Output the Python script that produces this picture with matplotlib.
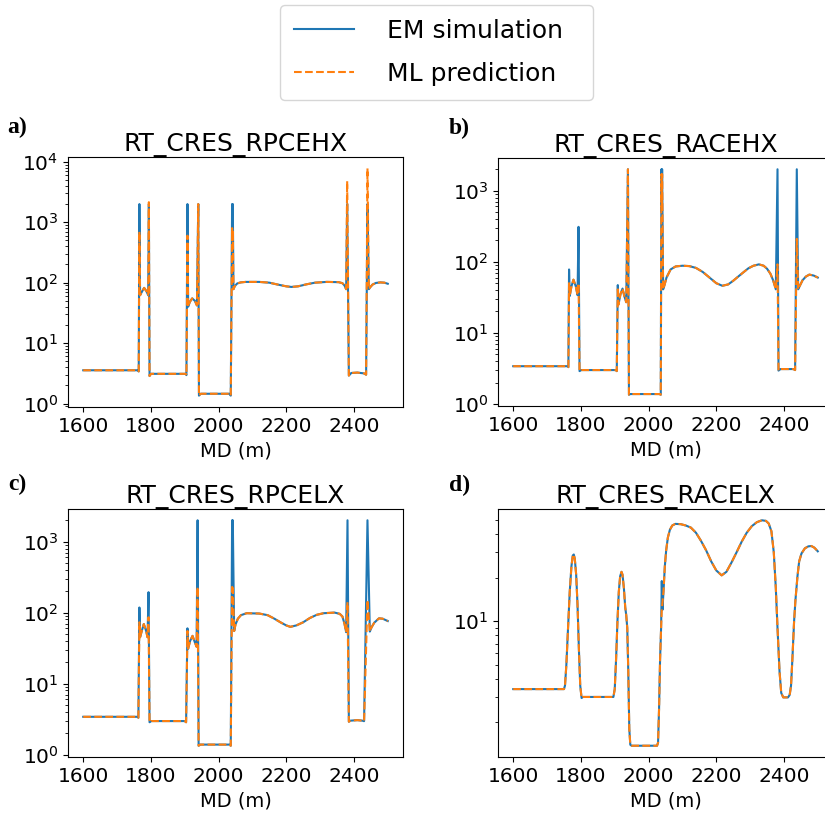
import matplotlib
matplotlib.use('Agg')
import matplotlib.pyplot as plt

# values: (MD in m, EM simulation, ML prediction), one table per panel
titles = ['RT_CRES_RPCEHX', 'RT_CRES_RACEHX', 'RT_CRES_RPCELX', 'RT_CRES_RACELX']
panel_labels = ['a)', 'b)', 'c)', 'd)']

rows_a = [(1600, 3.55, 3.55), (1760, 3.55, 3.55), (1764, 3.4, 3.4), (1766, 2000, 700), (1768, 62, 62),
          (1773, 70, 70), (1780, 82, 82), (1787, 72, 72), (1792, 62, 62), (1794, 2000, 2150),
          (1796, 2.85, 2.85), (1800, 3.1, 3.1), (1903, 3.1, 3.1), (1905, 2.95, 2.95), (1908, 2000, 600),
          (1910, 40, 40), (1915, 48, 48), (1922, 55, 55), (1930, 50, 50), (1936, 42, 42),
          (1940, 2000, 2000), (1942, 1.35, 1.35), (1947, 1.45, 1.45), (2032, 1.45, 1.45), (2036, 1.35, 1.35),
          (2040, 2000, 800), (2041, 400, 500), (2042, 2000, 700), (2044, 78, 78), (2048, 88, 88),
          (2055, 97, 97), (2065, 101, 101), (2080, 103, 103), (2120, 103, 103), (2150, 100, 100),
          (2175, 93, 93), (2200, 87, 87), (2215, 85, 85), (2235, 87, 87), (2260, 94, 94),
          (2285, 100, 100), (2320, 103, 103), (2355, 102, 102), (2366, 98, 98), (2372, 90, 90),
          (2377, 78, 78), (2380, 2000, 4800), (2385, 2.9, 2.9), (2392, 3.2, 3.2), (2410, 3.25, 3.25),
          (2430, 3.15, 3.15), (2436, 3.0, 3.0), (2440, 2000, 7800), (2444, 78, 78), (2448, 84, 84),
          (2455, 93, 93), (2465, 99, 99), (2478, 101, 101), (2490, 100, 100), (2500, 96, 96)]

rows_b = [(1600, 3.4, 3.4), (1760, 3.4, 3.4), (1763, 3.3, 3.3), (1765, 78, 50), (1767, 33, 33),
          (1772, 45, 45), (1778, 56, 56), (1785, 45, 45), (1790, 34, 34), (1793, 310, 50),
          (1796, 2.9, 2.9), (1801, 3.0, 3.0), (1903, 3.0, 3.0), (1906, 2.9, 2.9), (1909, 47, 44),
          (1911, 25, 25), (1917, 35, 35), (1923, 42, 42), (1929, 32, 32), (1934, 27, 27),
          (1939, 2000, 2000), (1942, 1.35, 1.35), (1946, 1.38, 1.38), (2032, 1.38, 1.38), (2036, 1.35, 1.35),
          (2038, 2000, 1700), (2039, 500, 600), (2040, 2000, 1700), (2043, 41, 41), (2047, 47, 47),
          (2053, 60, 60), (2065, 78, 78), (2080, 86, 86), (2100, 88, 88), (2120, 87, 87),
          (2140, 82, 82), (2160, 72, 72), (2180, 60, 60), (2200, 50, 50), (2218, 46, 46),
          (2235, 48, 48), (2250, 54, 54), (2265, 62, 62), (2280, 71, 71), (2295, 81, 81),
          (2310, 88, 88), (2326, 92, 92), (2340, 88, 88), (2350, 80, 80), (2360, 68, 68),
          (2368, 55, 55), (2376, 41, 41), (2381, 2000, 92), (2384, 2.95, 2.95), (2390, 3.1, 3.1),
          (2428, 3.1, 3.1), (2433, 3.0, 3.0), (2438, 2000, 210), (2442, 41, 41), (2447, 46, 46),
          (2455, 55, 55), (2465, 62, 62), (2475, 66, 66), (2488, 64, 64), (2500, 60, 60)]

rows_c = [(1600, 3.4, 3.4), (1760, 3.4, 3.4), (1763, 3.3, 3.3), (1766, 118, 73), (1768, 45, 45),
          (1773, 55, 55), (1779, 69, 69), (1786, 55, 55), (1790, 45, 45), (1793, 194, 86),
          (1796, 2.85, 2.85), (1801, 2.96, 2.96), (1900, 2.96, 2.96), (1904, 2.85, 2.85), (1908, 60, 55),
          (1910, 31, 31), (1916, 40, 40), (1923, 47, 47), (1930, 38, 38), (1935, 33, 33),
          (1938, 2000, 230), (1941, 1.33, 1.33), (1946, 1.38, 1.38), (2032, 1.38, 1.38), (2036, 1.33, 1.33),
          (2040, 2000, 230), (2041, 500, 200), (2042, 2000, 220), (2046, 55, 55), (2050, 68, 68),
          (2057, 82, 82), (2066, 92, 92), (2083, 98, 98), (2120, 97, 97), (2145, 92, 92),
          (2165, 82, 82), (2185, 72, 72), (2200, 66, 66), (2212, 63, 63), (2230, 66, 66),
          (2250, 73, 73), (2270, 84, 84), (2290, 93, 93), (2310, 98, 98), (2343, 100, 100),
          (2358, 96, 96), (2366, 88, 88), (2372, 70, 70), (2377, 53, 53), (2381, 2000, 140),
          (2385, 2.9, 2.9), (2390, 3.0, 3.0), (2410, 3.05, 3.05), (2425, 3.0, 3.0), (2430, 2.95, 2.95),
          (2440, 2000, 150), (2447, 54, 54), (2452, 62, 62), (2460, 72, 72), (2474, 83, 83),
          (2485, 82, 82), (2500, 76, 76)]

rows_d = [(1600, 3.4, 3.4), (1750, 3.4, 3.4), (1753, 3.6, 3.6), (1757, 5, 5), (1762, 9, 9),
          (1767, 16, 16), (1772, 24, 24), (1776, 28.5, 28.5), (1779, 29, 29), (1782, 27, 27),
          (1786, 21, 21), (1790, 13, 13), (1794, 6.5, 6.5), (1798, 3.6, 3.6), (1802, 2.95, 2.95),
          (1806, 3.0, 3.0), (1896, 3.0, 3.0), (1900, 3.4, 3.4), (1904, 5.5, 5.5), (1908, 10, 10),
          (1912, 16, 16), (1916, 20.5, 20.5), (1920, 22, 22), (1923, 21, 21), (1927, 17, 17),
          (1931, 12.5, 12.5), (1934, 11, 11), (1937, 9, 9), (1940, 4.5, 4.5), (1943, 1.8, 1.8),
          (1946, 1.4, 1.4), (1950, 1.38, 1.38), (2025, 1.38, 1.38), (2028, 1.45, 1.45), (2031, 2.5, 2.5),
          (2034, 5.5, 5.5), (2037, 9, 9), (2039, 19, 12), (2041, 12, 13.5), (2044, 16, 16),
          (2048, 24, 24), (2052, 31, 31), (2057, 38, 38), (2063, 43, 43), (2070, 46, 46),
          (2079, 47.2, 47.2), (2095, 47, 47), (2110, 46, 46), (2125, 44.5, 44.5), (2140, 41, 41),
          (2155, 36, 36), (2170, 31, 31), (2185, 26, 26), (2200, 22.5, 22.5), (2216, 20.8, 20.8),
          (2230, 22, 22), (2245, 25.5, 25.5), (2260, 30, 30), (2275, 35.5, 35.5), (2290, 41, 41),
          (2305, 45.5, 45.5), (2320, 48.5, 48.5), (2335, 50, 50), (2347, 49.5, 49.5), (2355, 47.5, 47.5),
          (2363, 42, 42), (2370, 30, 30), (2376, 17, 17), (2381, 9, 9), (2387, 4.5, 4.5),
          (2392, 3.2, 3.2), (2398, 2.98, 2.98), (2412, 2.98, 2.98), (2417, 3.1, 3.1), (2421, 3.6, 3.6),
          (2425, 5.5, 5.5), (2430, 10, 10), (2434, 14, 14), (2440, 20.5, 20.5), (2445, 26, 26),
          (2452, 29.5, 29.5), (2462, 32, 32), (2472, 33, 33), (2481, 33.2, 33.2), (2490, 32.3, 32.3),
          (2500, 30.5, 30.5)]

panels = [rows_a, rows_b, rows_c, rows_d]

W, H = 825, 815
fig = plt.figure(figsize=(W / 100, H / 100), dpi=100)

# axes boxes in pixels: left, top, width, height (right column runs off the edge)
boxes = [(68, 157, 335, 250), (498, 158, 335, 248), (68, 509, 335, 248), (498, 509, 335, 248)]
label_pos = [(7, 133), (449, 134), (8, 490), (449, 491)]

axes = []
for i in range(4):
    l, t, w, h = boxes[i]
    ax = fig.add_axes([l / W, 1 - (t + h) / H, w / W, h / H])
    md, em, ml = zip(*panels[i])
    ax.plot(md, em, color='tab:blue', lw=1.5, label='EM simulation  ')
    ax.plot(md, ml, color='tab:orange', lw=1.5, ls='--', label='ML prediction  ')
    ax.set_yscale('log')
    ax.set_xticks([1600, 1800, 2000, 2200, 2400])
    ax.tick_params(labelsize=14.5)
    ax.set_title(titles[i], fontsize=18, pad=3)
    ax.set_xlabel('MD (m)', fontsize=14)
    fig.text(label_pos[i][0] / W, 1 - label_pos[i][1] / H, panel_labels[i],
             fontfamily='Liberation Serif', fontweight='bold', fontsize=17, va='baseline')
    axes.append(ax)

h, lab = axes[0].get_legend_handles_labels()
fig.legend(h, lab, loc='upper center', bbox_to_anchor=(0.529, 0.994), fontsize=18,
           handlelength=2.4, handletextpad=1.35, borderpad=0.55, labelspacing=0.78,
           borderaxespad=0)

fig.savefig('out.png', dpi=100)
